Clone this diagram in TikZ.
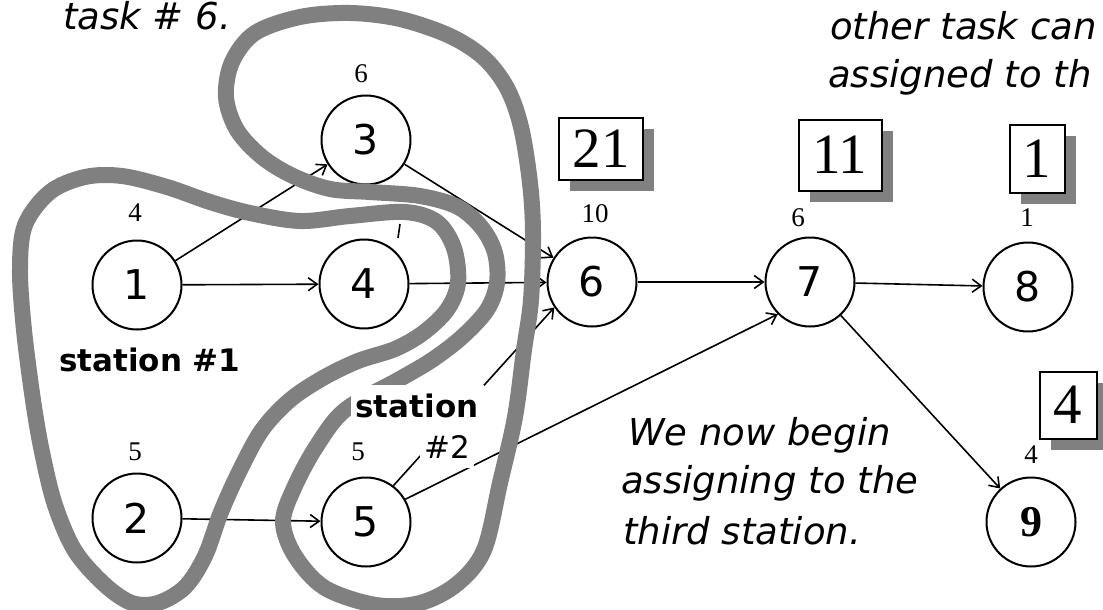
\documentclass[tikz,border=0pt]{standalone}
\usepackage{fontspec}
\usetikzlibrary{arrows.meta,shadows}
\newfontfamily\numfont{DejaVu Sans}
\newfontfamily\serfont{Liberation Serif}
\begin{document}
\begin{tikzpicture}[x=1pt,y=-1pt,
  task/.style={circle, draw, line width=2pt, minimum size=89pt, inner sep=0pt, fill=white,
    font=\numfont\fontsize{41}{41}\selectfont},
  taskser/.style={task, font=\serfont\bfseries\fontsize{44}{44}\selectfont},
  tlabel/.style={inner sep=0pt, font=\serfont\fontsize{27}{27}\selectfont},
  arr/.style={line width=1.6pt, -{Straight Barb[length=9pt,width=13pt,line width=1.6pt]}},
  band/.style={draw=black!50, line width=16pt, line join=round},
  numbox/.style={draw, line width=2pt, fill=white, inner sep=0pt,
    font=\serfont\fontsize{57}{57}\selectfont,
    drop shadow={shadow xshift=11pt, shadow yshift=-11pt, fill=black!50, opacity=1}},
  note/.style={anchor=base west, inner sep=0pt, font=\numfont\itshape\fontsize{37}{49}\selectfont},
  stlabel/.style={inner sep=0pt, font=\numfont\bfseries\fontsize{31}{31}\selectfont}
]
\useasboundingbox (0,0) rectangle (1103,610);
\clip (0,0) rectangle (1103,610);

% task nodes
\node[task] (n1) at (137,285) {1};
\node[task] (n2) at (137,518) {2};
\node[task] (n3) at (366,140) {3};
\node[task] (n4) at (364,284) {4};
\node[task] (n5) at (366,522) {5};
\node[task] (n6) at (592,282) {6};
\node[task] (n7) at (810,282) {7};
\node[task] (n8) at (1028,287) {8};
\node[taskser] (n9) at (1031,522) {9};

% task times
\node[tlabel] (l1) at (135,213) {4};
\node[tlabel] (l2) at (135,452) {5};
\node[tlabel] (l3) at (361,74) {6};
\node[tlabel] (l5) at (358,452) {5};
\node[tlabel] (l6) at (595,214) {10};
\node[tlabel] (l7) at (798,218) {6};
\node[tlabel] (l8) at (1027,218) {1};
\node[tlabel] (l9) at (1031,455) {4};
\coordinate (k1) at (400,224);
\coordinate (k2) at (398,238);
\draw[line width=1.6pt] (k1) -- (k2);

% connectors
\draw[arr] (n1) -- (n3);
\draw[arr] (n1) -- (n4);
\draw[arr] (n2) -- (n5);
\draw[arr] (n3) -- (n6);
\draw[arr] (n4) -- (n6);
\draw[arr] (n5.53) -- (n6.214);
\draw[arr] (n5.30) -- (n7.225);
\draw[arr] (n6) -- (n7);
\draw[arr] (n7) -- (n8);
\draw[arr] (n7) -- (n9);

% station #1 boundary
\draw[band] plot[smooth cycle, tension=0.55] coordinates {
 (25,225) (50,192) (85,177) (122,176) (167,187) (210,202) (250,213) (300,221)
 (350,216) (405,212) (437,222) (454,248) (458,283) (447,310) (423,333) (395,349)
 (358,361) (323,378) (290,400) (262,430) (240,470) (221,512) (205,556) (185,587)
 (158,603) (132,603) (105,585) (75,551) (55,505) (42,452) (33,400) (24,330) (20,270)};

% station #2 boundary
\draw[band] plot[smooth cycle, tension=0.55] coordinates {
 (398,380) (432,360) (462,337) (487,310) (497,283) (495,253) (482,228) (458,207)
 (420,196) (370,192) (330,189) (293,176) (262,157) (237,130) (226,97) (232,62)
 (255,33) (300,17) (350,13) (400,19) (450,36) (484,58) (507,88) (521,127)
 (530,183) (533,233) (531,300) (524,350) (515,417) (500,483) (484,550) (457,584)
 (420,603) (376,605) (325,588) (295,556) (283,522) (294,488) (316,447) (345,410)};

% station labels
\node[stlabel, anchor=base west] (s1) at (59,371) {station \#1};
\node[stlabel, fill=white, inner xsep=5pt, inner ysep=9pt] (s2) at (417,406) {station};
\node[stlabel, font=\numfont\fontsize{31}{31}\selectfont, fill=white, inner xsep=4pt, inner ysep=9pt] (s3) at (447,447) {\#2};

% number boxes
\node[numbox, minimum width=84pt, minimum height=62pt] (b21) at (601,149) {21};
\node[numbox, minimum width=83pt, minimum height=71pt] (b11) at (840,155) {11};
\node[numbox, minimum width=55pt, minimum height=68pt] (b1) at (1037,159) {1};
\node[numbox, minimum width=57pt, minimum height=67pt] (b4) at (1068,405) {4};

% notes
\node[note] (t1) at (63,30) {task \# 6.};
\node[note] (t2) at (830,40) {other task can};
\node[note] (t3) at (828,88) {assigned to th};
\node[note] (t4) at (628,445) {We now begin};
\node[note] (t5) at (621,493) {assigning to the};
\node[note] (t6) at (623,544) {third station.};
\end{tikzpicture}
\end{document}
